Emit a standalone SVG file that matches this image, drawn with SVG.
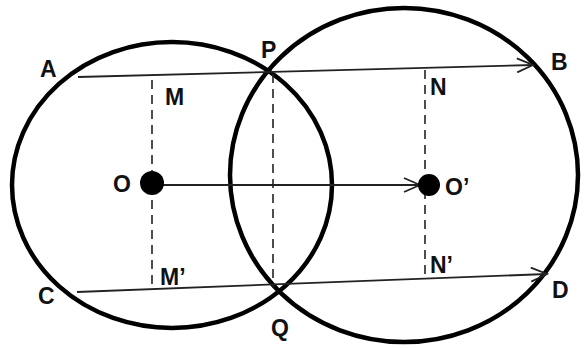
<svg xmlns="http://www.w3.org/2000/svg" width="584" height="349" viewBox="0 0 584 349">
<defs>
<style>
.circ{fill:none;stroke:#000;stroke-width:4.5}
.ln{stroke:#222;stroke-width:1.8;fill:none}
.dash{stroke:#222;stroke-width:1.6;stroke-dasharray:9 6;fill:none}
.lbl{font-family:"Liberation Sans",Arial,sans-serif;font-weight:bold;font-size:23px;fill:#111}
</style>
<marker id="arr" markerWidth="20" markerHeight="16" refX="18" refY="8" orient="auto" markerUnits="userSpaceOnUse">
<path d="M2,1 L18,8 L2,15" fill="none" stroke="#222" stroke-width="1.8"/>
</marker>
</defs>
<rect width="584" height="349" fill="#fff"/>
<g id="circle-O"><ellipse class="circ" cx="172" cy="185" rx="160" ry="143"/></g>
<g id="circle-O2"><ellipse class="circ" cx="404" cy="175" rx="174" ry="167"/></g>
<g id="connectors">
<line class="ln" x1="78" y1="77" x2="533" y2="65" marker-end="url(#arr)"/>
<line class="ln" x1="77" y1="292" x2="547" y2="274" marker-end="url(#arr)"/>
<line class="ln" x1="152" y1="185" x2="420" y2="185" marker-end="url(#arr)"/>
<line class="dash" x1="152" y1="80" x2="152" y2="290"/>
<line class="dash" x1="273" y1="74" x2="273" y2="288"/>
<line class="dash" x1="425" y1="70" x2="425" y2="278"/>
</g>
<g id="node-O"><circle cx="152" cy="183" r="12" fill="#000"/><text class="lbl" x="113" y="192">O</text></g>
<g id="node-O2"><circle cx="429" cy="185" r="11" fill="#000"/><text class="lbl" x="445" y="195">O’</text></g>
<g id="labels">
<text class="lbl" x="40" y="77">A</text>
<text class="lbl" x="261" y="58">P</text>
<text class="lbl" x="165" y="105">M</text>
<text class="lbl" x="551" y="70">B</text>
<text class="lbl" x="430" y="95">N</text>
<text class="lbl" x="38" y="304">C</text>
<text class="lbl" x="160" y="285">M’</text>
<text class="lbl" x="271" y="336">Q</text>
<text class="lbl" x="430" y="273">N’</text>
<text class="lbl" x="552" y="298">D</text>
</g>
</svg>
